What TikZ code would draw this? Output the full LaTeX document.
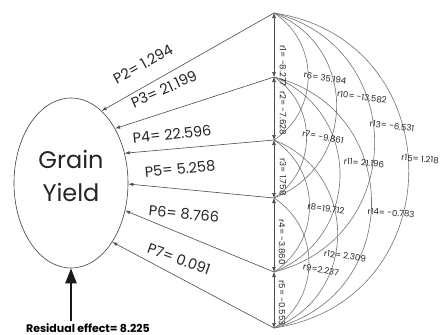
\documentclass[tikz,border=0pt]{standalone}
\usepackage{fontspec}
\setmainfont{Poppins}
\usetikzlibrary{shapes.geometric,arrows.meta}
\begin{document}
\begin{tikzpicture}[x=1pt,y=-1pt,
  plab/.style={font=\fontsize{14.5}{14.5}\selectfont, text=black!85, inner sep=0},
  rlab/.style={font=\fontsize{8.6}{8.6}\selectfont, text=black!85, inner sep=0},
  arcline/.style={draw=black!55, line width=0.6pt},
  vline/.style={draw=black!70, line width=0.6pt, {Latex[length=5pt,width=4pt]}-{Latex[length=5pt,width=4pt]}},
  parrow/.style={draw=black!70, line width=0.6pt, -{Latex[length=5pt,width=3.5pt]}},
  skipa/.style={bend left=56.8, looseness=1.10},
  skipb/.style={bend left=68.4, looseness=1.245},
  skipc/.style={bend left=75.9, looseness=1.37},
  skipd/.style={bend left=81.4, looseness=1.48}]
\useasboundingbox (0,0) rectangle (445,335);
\fill[white] (0,0) rectangle (445,335);

% points on the vertical line
\coordinate (A1) at (274,13);
\coordinate (A2) at (274,77);
\coordinate (A3) at (274,140);
\coordinate (A4) at (274,198);
\coordinate (A5) at (274,272);
\coordinate (A6) at (274,328);

% Grain yield ellipse
\node[draw=black!75, line width=0.6pt, ellipse, minimum width=114pt, minimum height=170pt, inner sep=0] (G) at (71,183) {};
\node[font=\fontsize{24}{33}\selectfont, align=center, text=black!85] (GT) at (71,176) {Grain\\Yield};

% arcs (correlations)
\draw[arcline] (A1) to[skipa] (A3);
\draw[arcline] (A2) to[skipa] (A4);
\draw[arcline] (A3) to[skipa] (A5);
\draw[arcline] (A4) to[skipa] (A6);
\draw[arcline] (A1) to[skipb] (A4);
\draw[arcline] (A2) to[skipb] (A5);
\draw[arcline] (A3) to[skipb] (A6);
\draw[arcline] (A1) to[skipc] (A5);
\draw[arcline] (A2) to[skipc] (A6);
\draw[arcline] (A1) to[skipd] (A6);

% vertical double arrows
\draw[vline] (A1) -- (A2);
\draw[vline] (A2) -- (A3);
\draw[vline] (A3) -- (A4);
\draw[vline] (A4) -- (A5);
\draw[vline] (A5) -- (A6);

% path arrows
\draw[parrow] (A1) -- (G.67.8);
\draw[parrow] (A2) -- (G.51.3);
\draw[parrow] (A3) -- (G.29);
\draw[parrow] (A4) -- (G.-1);
\draw[parrow] (A5) -- (G.-27.8);
\draw[parrow] (A6) -- (G.-55);

% path labels
\node[plab, rotate=29] (p2) at (143,64) {P2= 1.294};
\node[plab, rotate=24] (p3) at (164,89) {P3= 21.199};
\node[plab, rotate=6] (p4) at (172,134) {P4= 22.596};
\node[plab, rotate=5] (p5) at (180,169) {P5= 5.258};
\node[plab, rotate=-6] (p6) at (184,214) {P6= 8.766};
\node[plab, rotate=-20] (p7) at (179,259) {P7= 0.091};

% vertical r labels
\node[rlab, rotate=-90] (r1) at (283,66) {r1= -8.277};
\node[rlab, rotate=-90] (r2) at (283,113) {r2= -7.628};
\node[rlab, rotate=-90] (r3) at (283,177) {r3= 1.758};
\node[rlab, rotate=-90] (r4) at (282,242) {r4= -3.860};
\node[rlab, rotate=-90] (r5) at (282,303) {r5= -0.553};

% arc labels
\node[rlab, rotate=-9] (r6) at (325,78) {r6= 35.194};
\node[rlab, rotate=-8] (r10) at (362,97) {r10= -13.582};
\node[rlab, rotate=-7] (r13) at (392,126) {r13= -6.531};
\node[rlab, rotate=-4] (r15) at (420,159) {r15= 1.218};
\node[rlab, rotate=-11] (r7) at (323,137) {r7= -9.861};
\node[rlab, rotate=-5] (r11) at (364,163) {r11= 21.196};
\node[rlab, rotate=-8] (r8) at (326,209) {r8=19.712};
\node[rlab, rotate=-4] (r14) at (391,213) {r14= -0.783};
\node[rlab, rotate=-8] (r12) at (345,256) {r12= 2.309};
\node[rlab, rotate=-10] (r9) at (321,270) {r9=2.237};

% residual
\coordinate (Rs) at (71,321);
\draw[line width=2.2pt, black!90, -{Triangle[length=15pt,width=11pt]}] (Rs) -- (G.south);
\node[font=\fontsize{11}{11}\selectfont\bfseries, inner sep=0] (RE) at (88,328) {Residual effect= 8.225};
\end{tikzpicture}
\end{document}
